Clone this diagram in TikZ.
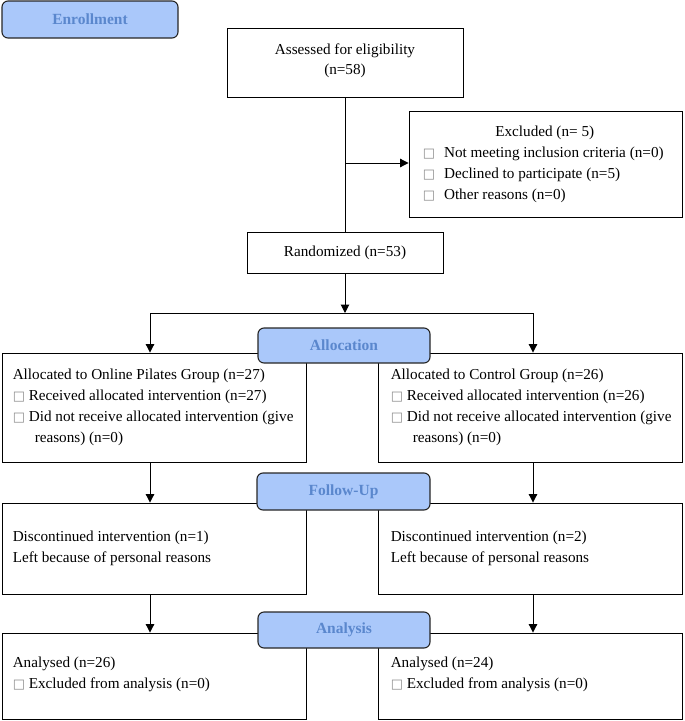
\documentclass[tikz,border=0pt]{standalone}
\usepackage{fontspec}
\setmainfont{Liberation Serif}
\newfontfamily\symf{DejaVu Sans}
\usetikzlibrary{arrows.meta}
\definecolor{hdrfill}{RGB}{170,200,250}
\definecolor{hdrtext}{RGB}{90,135,205}
\newcommand\sqbox{{\color{black!45}\symf\fontsize{13}{13}\selectfont □}}
\begin{document}
\begin{tikzpicture}[x=1pt,y=-1pt,
  box/.style={draw=black, line width=0.9pt, inner sep=0pt},
  txt/.style={inner sep=0pt, align=left, font=\fontsize{15.2}{21}\selectfont},
  hdr/.style={draw=black!85, line width=1.1pt, rounded corners=6pt, fill=hdrfill,
    text=hdrtext, font=\fontsize{15.5}{18}\selectfont\bfseries, inner sep=0pt},
  arr/.style={-{Triangle[length=8.5pt,width=8.5pt]}, line width=1pt},
  ln/.style={line width=1pt}]
\useasboundingbox (0,0) rectangle (685,721);

% boxes
\node[box, minimum width=236pt, minimum height=69pt] (assess) at (345,62.5) {};
\node[txt, align=center, font=\fontsize{15.2}{20}\selectfont] (assesst) at (345,60.5) {Assessed for eligibility\\(n=58)};

\node[box, minimum width=273pt, minimum height=106pt] (excl) at (545.5,164) {};
\node[txt, anchor=west] (exclt) at ([xshift=14pt,yshift=0pt]excl.west)
  {\makebox[244pt]{Excluded (n= 5)}\\
   \sqbox\hspace{9pt}Not meeting inclusion criteria (n=0)\\
   \sqbox\hspace{9pt}Declined to participate (n=5)\\
   \sqbox\hspace{9pt}Other reasons (n=0)};

\node[box, minimum width=196pt, minimum height=41pt] (rand) at (345,252.5) {};
\node[txt] (randt) at (rand.center) {Randomized (n=53)};

\node[box, minimum width=304pt, minimum height=109pt] (allocL) at (154,407.5) {};
\node[txt, anchor=west] (allocLt) at ([xshift=11pt]allocL.west)
  {Allocated to Online Pilates Group (n=27)\\
   \sqbox\ Received allocated intervention (n=27)\\
   \sqbox\ Did not receive allocated intervention (give\\
   \hspace*{22pt}reasons) (n=0)};

\node[box, minimum width=304pt, minimum height=109pt] (allocR) at (530,407.5) {};
\node[txt, anchor=west] (allocRt) at ([xshift=13pt]allocR.west)
  {Allocated to Control Group (n=26)\\
   \sqbox\ Received allocated intervention (n=26)\\
   \sqbox\ Did not receive allocated intervention (give\\
   \hspace*{22pt}reasons) (n=0)};

\node[box, minimum width=304pt, minimum height=91pt] (discL) at (154,548.5) {};
\node[txt, anchor=west] (discLt) at ([xshift=11pt]discL.west)
  {Discontinued intervention (n=1)\\Left because of personal reasons};

\node[box, minimum width=304pt, minimum height=91pt] (discR) at (530,548.5) {};
\node[txt, anchor=west] (discRt) at ([xshift=13pt]discR.west)
  {Discontinued intervention (n=2)\\Left because of personal reasons};

\node[box, minimum width=304pt, minimum height=86pt] (anaL) at (154,676) {};
\node[txt, anchor=west] (anaLt) at ([xshift=11pt,yshift=2pt]anaL.west)
  {Analysed (n=26)\\\sqbox\ Excluded from analysis (n=0)};

\node[box, minimum width=304pt, minimum height=86pt] (anaR) at (530,676) {};
\node[txt, anchor=west] (anaRt) at ([xshift=13pt,yshift=2pt]anaR.west)
  {Analysed (n=24)\\\sqbox\ Excluded from analysis (n=0)};

% headers
\node[hdr, minimum width=176pt, minimum height=37pt] (enr) at (90,19.5) {Enrollment};
\node[hdr, minimum width=172pt, minimum height=35pt] (allochdr) at (344,345.5) {Allocation};
\node[hdr, minimum width=173pt, minimum height=37pt] (fuhdr) at (343.5,491.5) {Follow-Up};
\node[hdr, minimum width=172pt, minimum height=36pt] (anahdr) at (344,630) {Analysis};

% connectors
\coordinate (br) at (345,163);
\coordinate (split) at (345,313);
\coordinate (sl) at (150,313);
\coordinate (sr) at (533,313);
\draw[ln] (assess.south) -- (rand.north);
\draw[arr] (br) -- (excl.west |- br);
\draw[arr] (rand.south) -- (split);
\draw[ln] (sl) -- (sr);
\draw[arr] (sl) -- (sl |- allocL.north);
\draw[arr] (sr) -- (sr |- allocR.north);
\draw[arr] (sl |- allocL.south) -- (sl |- discL.north);
\draw[arr] (sr |- allocR.south) -- (sr |- discR.north);
\draw[arr] (sl |- discL.south) -- (sl |- anaL.north);
\draw[arr] (sr |- discR.south) -- (sr |- anaR.north);
\end{tikzpicture}
\end{document}
